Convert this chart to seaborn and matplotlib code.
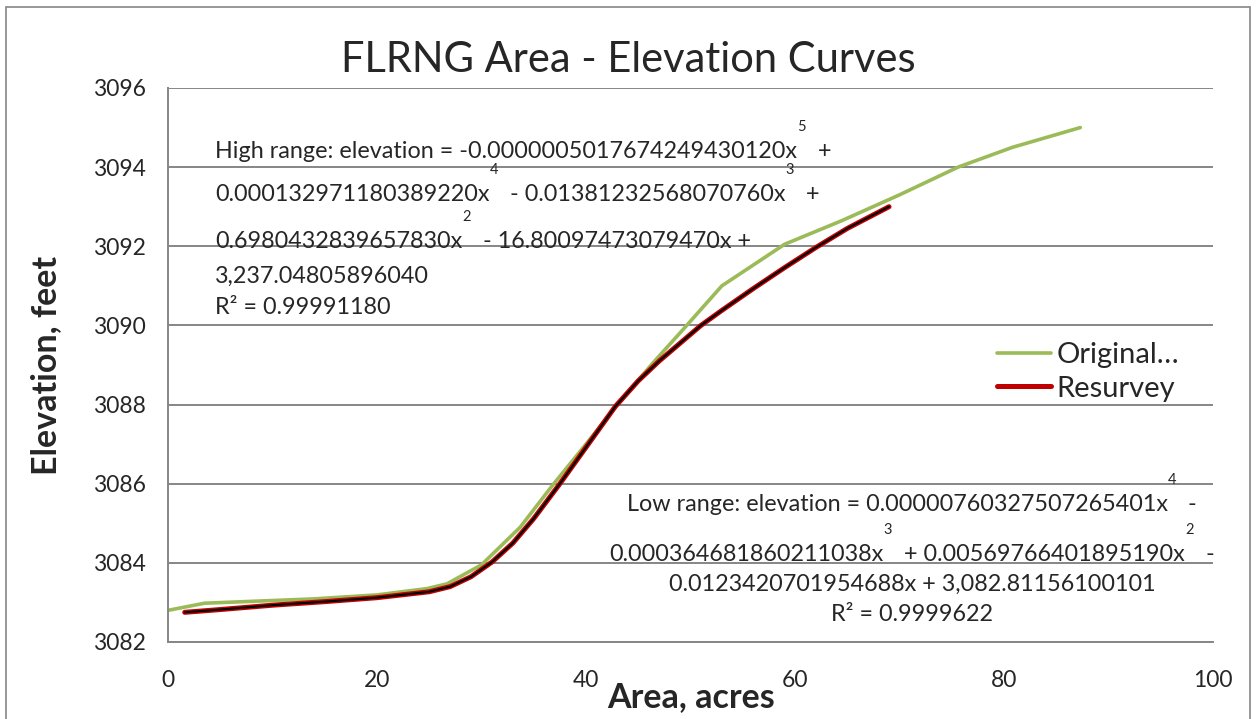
import pandas as pd
import seaborn as sns
import matplotlib.pyplot as plt
from matplotlib.patches import Rectangle

# values
orig_area = [0, 3.5, 14, 20, 24.8, 26.7, 30, 33.7, 36.8, 40, 43, 46.4, 49.3, 53,
             59, 64.5, 70, 75.6, 80.8, 87.3]
orig_elev = [3082.8, 3082.98, 3083.09, 3083.19, 3083.35, 3083.47, 3083.95, 3084.9,
             3085.96, 3087.0, 3088.0, 3089.05, 3089.9, 3091.0, 3092.05, 3092.65,
             3093.3, 3094.0, 3094.5, 3095.0]

resurvey_area = [1.6, 5, 10, 15, 20, 25, 27, 29, 31, 33, 35, 37.5, 40, 42.8, 45, 47,
                 49, 51, 53, 56, 59, 62, 65, 69]
resurvey_elev = [3082.75, 3082.82, 3082.93, 3083.02, 3083.12, 3083.27, 3083.4, 3083.65,
                 3084.02, 3084.5, 3085.12, 3086.0, 3086.92, 3087.95, 3088.6, 3089.1,
                 3089.55, 3090.0, 3090.38, 3090.93, 3091.46, 3091.97, 3092.45, 3093.0]

x_ticks = [0, 20, 40, 60, 80, 100]
y_ticks = [3082, 3084, 3086, 3088, 3090, 3092, 3094, 3096]

orig = pd.DataFrame({'area': orig_area, 'elev': orig_elev})
resurvey = pd.DataFrame({'area': resurvey_area, 'elev': resurvey_elev})

sns.set_style('white')
plt.rcParams['font.family'] = ['Lato', 'DejaVu Sans']

W, H = 1257, 719
GREEN = '#9BBB59'
RED = '#C00000'
GRID = '#868686'

fig = plt.figure(figsize=(W / 100, H / 100), dpi=100)
ax = fig.add_axes([168 / W, 1 - 642 / H, 1045 / W, 554 / H])

sns.lineplot(data=orig, x='area', y='elev', ax=ax, color=GREEN, lw=2.6,
             sort=False, estimator=None, label='Original\u2026')
sns.lineplot(data=resurvey, x='area', y='elev', ax=ax, color=RED, lw=3.6,
             sort=False, estimator=None, label='Resurvey')
# trendline drawn over the resurvey curve
sns.lineplot(data=resurvey, x='area', y='elev', ax=ax, color='black', lw=1.5,
             sort=False, estimator=None, legend=False)

ax.set_xlim(0, 100)
ax.set_ylim(3082, 3096)
ax.set_xticks(x_ticks)
ax.set_yticks(y_ticks)
ax.yaxis.grid(True, color=GRID, lw=1.4)
ax.xaxis.grid(False)
for s in ['top', 'right']:
    ax.spines[s].set_visible(False)
for s in ['left', 'bottom']:
    ax.spines[s].set_color(GRID)
    ax.spines[s].set_linewidth(1.4)
ax.tick_params(axis='both', direction='out', length=6, width=1.2, color=GRID,
               labelsize=16.5)
ax.tick_params(axis='x', pad=14)
ax.tick_params(axis='y', pad=10)

ax.set_xlabel('Area, acres', fontsize=24.5, fontweight='bold')
ax.xaxis.label.set_va('center')
ax.xaxis.set_label_coords((691 - 168) / 1045, (642 - 697) / 554)
ax.set_ylabel('Elevation, feet', fontsize=24.5, fontweight='bold')
ax.yaxis.label.set_va('center')
ax.yaxis.set_label_coords((46 - 168) / 1045, 0.5)

fig.text(0.5, 1 - 60 / H, 'FLRNG Area - Elevation Curves', ha='center', va='center',
         fontsize=30)

leg = ax.legend(handles=ax.lines[:2], loc='center left', frameon=False,
                bbox_to_anchor=((982 - 168) / 1045, (642 - 372) / 554),
                fontsize=21, handlelength=1.85, handletextpad=0.2, borderpad=0,
                labelspacing=0.25)

# chart border
fig.add_artist(Rectangle((6 / W, -0.05), (1250 - 6) / W, 1.05 - 7 / H,
                         transform=fig.transFigure, fill=False, ec=GRID, lw=1.2))

EQ_SIZE = 16.8
SUP_SIZE = 10.5


def eq_line(x_px, base_px, parts):
    # parts: (text, is_superscript); pieces are chained one after another
    first = fig.text(x_px / W, 1 - base_px / H, parts[0][0], fontsize=EQ_SIZE,
                     va='baseline', ha='left')
    prev = first
    pieces = [first]
    for txt, sup in parts[1:]:
        y = base_px - 27 if sup else base_px
        prev = ax.annotate(txt, xy=(1, 1 - y / H), xycoords=(prev, 'figure fraction'),
                           fontsize=SUP_SIZE if sup else EQ_SIZE, va='baseline',
                           ha='left', annotation_clip=False)
        pieces.append(prev)
    return pieces


high_lines = [
    (158, [('High range: elevation = -0.0000005017674249430120x', False), ('5', True),
           ('  +', False)]),
    (201, [('0.000132971180389220x', False), ('4', True),
           ('  - 0.01381232568070760x', False), ('3', True), ('  +', False)]),
    (248, [('0.6980432839657830x', False), ('2', True),
           ('  - 16.80097473079470x +', False)]),
    (283, [('3,237.04805896040', False)]),
    (314, [('R\u00b2 = 0.99991180', False)]),
]
for base, parts in high_lines:
    eq_line(215, base, parts)

low_lines = [
    (511, [('Low range: elevation = 0.00000760327507265401x', False), ('4', True),
           ('  -', False)]),
    (561, [('0.000364681860211038x', False), ('3', True),
           ('  + 0.00569766401895190x', False), ('2', True), ('  -', False)]),
    (591, [('0.0123420701954688x + 3,082.81156100101', False)]),
    (621, [('R\u00b2 = 0.9999622', False)]),
]
low_pieces = [eq_line(600, base, parts) for base, parts in low_lines]

# centre the low range block like the Excel text box
fig.canvas.draw()
renderer = fig.canvas.get_renderer()
for pieces in low_pieces:
    x0 = pieces[0].get_window_extent(renderer).x0
    x1 = pieces[-1].get_window_extent(renderer).x1
    width = x1 - x0
    pieces[0].set_x((912 - width / 2) / W)

fig.savefig('out.png', dpi=100)
